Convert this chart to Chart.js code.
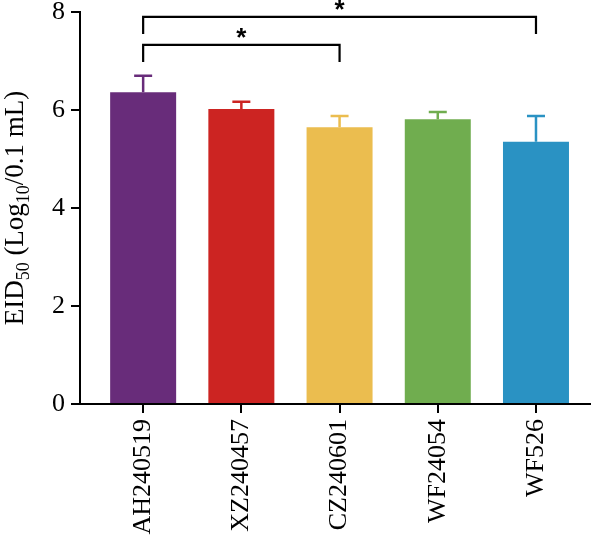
<!DOCTYPE html>
<html>
<head>
<meta charset="utf-8">
<script src="https://cdn.jsdelivr.net/npm/chart.js@4/dist/chart.umd.min.js"></script>
<style>
  html, body { margin: 0; padding: 0; background: #fff; }
  #wrap { width: 600px; height: 545px; position: relative; }
</style>
</head>
<body>
<div id="wrap"><canvas id="eid"></canvas></div>
<script>
// strains and EID50 titres (mean + upper SD)
var strains = ['AH240519', 'XZ240457', 'CZ240601', 'WF24054', 'WF526'];
var means = [6.36, 6.02, 5.65, 5.81, 5.35];
var sd = [0.34, 0.15, 0.23, 0.15, 0.53];
var colors = ['#682c7a', '#cc2422', '#ebbd4f', '#70ad4f', '#2a92c3'];
var yTicks = [0, 2, 4, 6, 8];
// significance comparisons (index pairs) and their marks
var compareA = [0, 0];
var compareB = [2, 4];
var marks = ['*', '*'];

var serif = '"Liberation Serif", "Times New Roman", serif';

var extras = {
  id: 'extras',
  afterDatasetsDraw: function (chart) {
    var ctx = chart.ctx, x = chart.scales.x, y = chart.scales.y;
    ctx.save();
    // error bars (upper only)
    ctx.lineWidth = 2.5;
    strains.forEach(function (s, i) {
      var px = x.getPixelForValue(i);
      var top = y.getPixelForValue(means[i] + sd[i]);
      ctx.strokeStyle = colors[i];
      ctx.beginPath();
      ctx.moveTo(px, y.getPixelForValue(means[i]));
      ctx.lineTo(px, top);
      ctx.moveTo(px - 9, top);
      ctx.lineTo(px + 9, top);
      ctx.stroke();
    });
    // brackets
    var levels = [[7.33, 6.98], [7.90, 7.55]];
    ctx.strokeStyle = '#000';
    ctx.fillStyle = '#000';
    ctx.lineWidth = 2.2;
    ctx.font = 'bold 26px "Liberation Sans", sans-serif';
    ctx.textAlign = 'center';
    ctx.textBaseline = 'alphabetic';
    compareA.forEach(function (a, k) {
      var x1 = x.getPixelForValue(a), x2 = x.getPixelForValue(compareB[k]);
      var yt = y.getPixelForValue(levels[k][0]), yb = y.getPixelForValue(levels[k][1]);
      ctx.beginPath();
      ctx.moveTo(x1, yb);
      ctx.lineTo(x1, yt);
      ctx.lineTo(x2, yt);
      ctx.lineTo(x2, yb);
      ctx.stroke();
      ctx.fillText(marks[k], (x1 + x2) / 2, yt + 1);
    });
    ctx.restore();
  },
  afterDraw: function (chart) {
    // y-axis title with subscripts
    var ctx = chart.ctx;
    var parts = [['EID', 0], ['50', 1], [' (Log', 0], ['10', 1], ['/0.1 mL)', 0]];
    var big = '27px ' + serif, small = '18px ' + serif;
    ctx.save();
    var w = 0;
    parts.forEach(function (p) { ctx.font = p[1] ? small : big; w += ctx.measureText(p[0]).width; });
    ctx.translate(23, (chart.chartArea.top + chart.chartArea.bottom) / 2);
    ctx.rotate(-Math.PI / 2);
    ctx.fillStyle = '#000';
    ctx.textBaseline = 'alphabetic';
    ctx.textAlign = 'left';
    var cx = -w / 2;
    parts.forEach(function (p) {
      ctx.font = p[1] ? small : big;
      ctx.fillText(p[0], cx, p[1] ? 6 : 0);
      cx += ctx.measureText(p[0]).width;
    });
    ctx.restore();
  }
};

new Chart(document.getElementById('eid'), {
  type: 'bar',
  data: {
    datasets: [{
      data: strains.map(function (s, i) { return { x: i, y: means[i] }; }),
      backgroundColor: colors,
      borderWidth: 0,
      categoryPercentage: 1,
      barPercentage: 0.672
    }]
  },
  options: {
    responsive: true,
    maintainAspectRatio: false,
    animation: false,
    layout: { padding: { top: 0, right: 10, left: 0, bottom: 0 } },
    plugins: { legend: { display: false }, tooltip: { enabled: false } },
    scales: {
      x: {
        type: 'linear',
        offset: false,
        min: -0.643,
        max: 4.55,
        afterBuildTicks: function (s) { s.ticks = strains.map(function (c, i) { return { value: i }; }); },
        afterFit: function (s) { s.height = 141; },
        grid: { offset: false, drawOnChartArea: false, drawTicks: true, tickLength: 9, color: '#000', lineWidth: 2 },
        border: { color: '#000', width: 2 },
        ticks: {
          autoSkip: false,
          minRotation: 90,
          maxRotation: 90,
          padding: 6,
          color: '#000',
          font: { family: serif, size: 26 },
          callback: function (v) { return strains[v]; }
        }
      },
      y: {
        min: 0,
        max: 8,
        afterBuildTicks: function (s) { s.ticks = yTicks.map(function (v) { return { value: v }; }); },
        afterFit: function (s) { s.width = 80; s.paddingTop = 12; },
        grid: { drawOnChartArea: false, drawTicks: true, tickLength: 9, color: '#000', lineWidth: 2 },
        border: { color: '#000', width: 2 },
        ticks: {
          padding: 6,
          color: '#000',
          font: { family: serif, size: 26, lineHeight: 0.9 }
        }
      }
    }
  },
  plugins: [extras]
});
</script>
</body>
</html>
